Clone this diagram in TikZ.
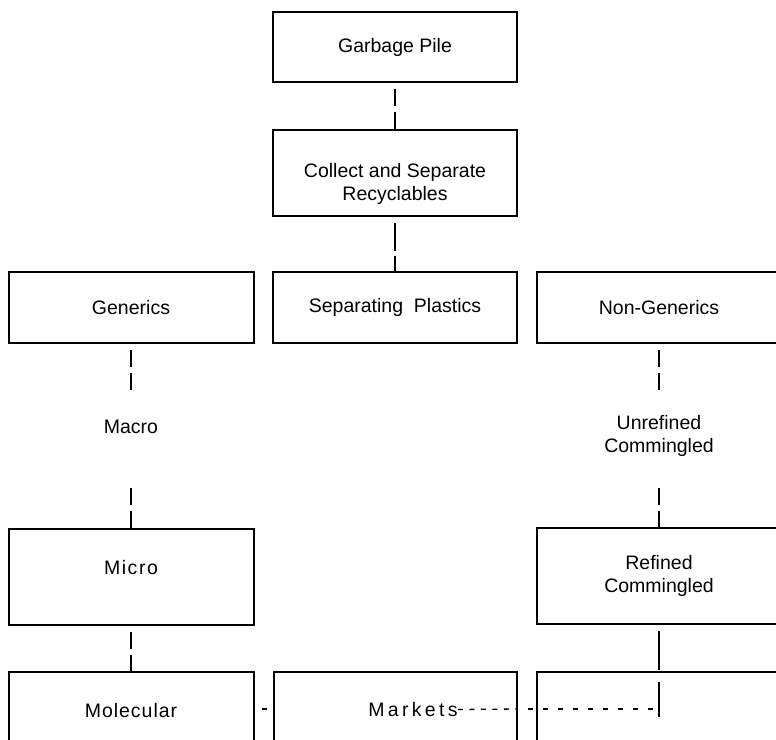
\documentclass[tikz,border=0pt]{standalone}
\usepackage{fontspec}
\setmainfont{Liberation Sans}
\begin{document}
\begin{tikzpicture}[x=1pt, y=-1pt, font=\fontsize{19.5}{23}\selectfont,
    box/.style={draw, line width=2pt, minimum width=244pt, align=center, inner sep=0pt},
    tag/.style={align=center, inner sep=0pt},
    upper/.style={text height=14pt, text depth=20pt},
    link/.style={line width=1.3pt, dash pattern=on 17pt off 6pt, dash phase=17pt},
    hline/.style={line width=1.3pt}]

  % page
  \useasboundingbox (0,0) rectangle (776,739);
  \clip (0,0) rectangle (776,739);

  % middle column
  \node[box, minimum height=70pt] (garbage) at (395,47)  {Garbage Pile};
  \node[box, minimum height=86pt,
        label={[tag, yshift=-11pt]center:{Collect and Separate\\Recyclables}}] (collect) at (395,173) {};
  \node[box, minimum height=71pt] (sep)     at (395,307.5) {Separating\ \ Plastics};

  % left column
  \node[box, minimum width=245pt, minimum height=71pt] (gen) at (131,307.5) {Generics};
  \node[tag, minimum height=74pt] (macro) at (131,427) {Macro};
  \node[box, upper, minimum width=245pt, minimum height=96pt] (micro) at (131,577)
    {\addfontfeature{LetterSpace=8}Micro};
  \node[box, upper, minimum width=245pt, minimum height=96pt] (mol) at (131,720)
    {\addfontfeature{LetterSpace=5}Molecular};

  % right column
  \node[box, minimum height=71pt] (nongen) at (659,307.5) {Non-Generics};
  \node[tag, minimum height=92pt] (unref)  at (659,436) {Unrefined\\Commingled};
  \node[box, minimum height=96pt] (refined) at (659,576) {Refined\\Commingled};
  \node[box, upper, minimum height=96pt] (rbox) at (659,720) {};

  % markets
  \node[box, upper, minimum width=243pt, minimum height=96pt] (mktbox) at (395.5,720) {};
  \node[tag] (mkt) at (413,709.5) {\addfontfeature{LetterSpace=17}Markets};

  \coordinate (hend) at (659,709);
  \coordinate (rend) at (659,717);

  % vertical links
  \draw[link] (garbage) -- (collect);
  \draw[link, dash pattern=on 28pt off 5pt on 30pt off 6pt, dash phase=63pt] (collect) -- (sep);
  \draw[link] (gen) -- (macro);
  \draw[link, shorten <=18pt] (macro) -- (micro);
  \draw[link] (micro) -- (mol);
  \draw[link] (nongen) -- (unref);
  \draw[link] (unref) -- (refined);
  \draw[link, dash pattern=on 39pt off 12pt on 40pt off 6pt, dash phase=91pt] (refined.south) -- (rend);

  % bottom line
  \draw[hline, dash pattern=on 0pt off 7pt on 5pt off 40pt] (mol.east |- hend) -- (mktbox.west |- hend);
  \draw[hline, dash pattern=on 5pt off 6.5pt] (mkt.east) -- (mktbox.east |- hend);
  \draw[hline, dash pattern=on 5pt off 10pt, dash phase=5pt] (mktbox.east |- hend) -- (hend);

\end{tikzpicture}
\end{document}
